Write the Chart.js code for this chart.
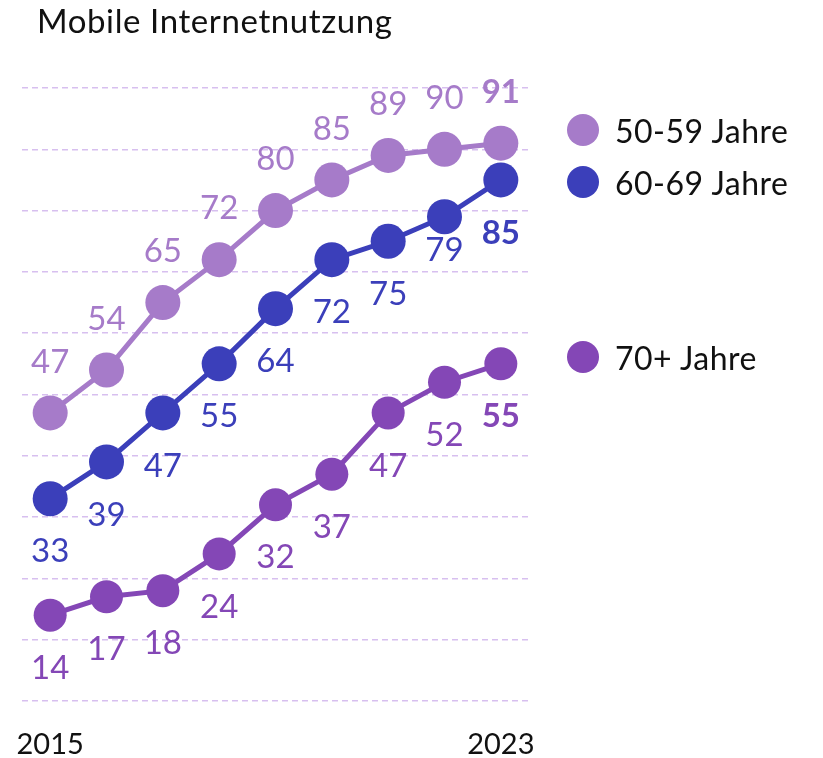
<!DOCTYPE html>
<html>
<head>
  <meta charset="UTF-8">
  <title>Mobile Internetnutzung</title>
  <script src="https://cdn.jsdelivr.net/npm/chart.js"></script>
  <style>
    html, body { margin: 0; padding: 0; background: #fff; }
    body { font-family: Lato, sans-serif; }
    .wrap { position: relative; width: 823px; height: 758px; }
    #chart { position: absolute; left: 0; top: 0; }
    .title { position: absolute; left: 37px; top: 0px; font-size: 33px; color: #111; letter-spacing: 0.6px; }
    .legend-item { position: absolute; left: 567px; height: 34px; display: flex; align-items: center; font-size: 32px; color: #111; letter-spacing: 0.5px; }
    .legend-item .dot { width: 32px; height: 32px; border-radius: 50%; margin-right: 16px; }
  </style>
</head>
<body>
  <div class="wrap">
    <canvas id="chart" width="823" height="758"></canvas>
    <div class="title">Mobile Internetnutzung</div>
    <div id="legend"></div>
  </div>

  <script>
    // data
    const years = ['2015', '2016', '2017', '2018', '2019', '2020', '2021', '2022', '2023'];
    const seriesNames = ['50-59 Jahre', '60-69 Jahre', '70+ Jahre'];
    const age50 = [47, 54, 65, 72, 80, 85, 89, 90, 91];
    const age60 = [33, 39, 47, 55, 64, 72, 75, 79, 85];
    const age70 = [14, 17, 18, 24, 32, 37, 47, 52, 55];

    const colors = ['#a67bc9', '#3b3fba', '#8447b6'];
    const gridColor = '#d7bfef';

    // legend (70+ sits lower, next to its line end)
    const legendTops = [113, 165, 340];
    const legend = document.getElementById('legend');
    seriesNames.forEach((name, i) => {
      const item = document.createElement('div');
      item.className = 'legend-item';
      item.style.top = legendTops[i] + 'px';
      item.innerHTML = '<span class="dot" style="background:' + colors[i] + '"></span>' + name;
      legend.appendChild(item);
    });

    // value labels: above for 50-59, below for the others, last one bold
    const valueLabels = {
      id: 'valueLabels',
      afterDatasetsDraw(chart) {
        const ctx = chart.ctx;
        ctx.save();
        ctx.textAlign = 'center';
        ctx.textBaseline = 'middle';
        chart.data.datasets.forEach((ds, di) => {
          const meta = chart.getDatasetMeta(di);
          meta.data.forEach((pt, i) => {
            const last = i === ds.data.length - 1;
            let dy = di === 0 ? -51 : 53;
            if (di === 1 && i === 7) dy = 34;
            ctx.font = (last ? 'bold ' : '') + '33px Lato';
            ctx.fillStyle = ds.borderColor;
            ctx.fillText(ds.data[i], pt.x, pt.y + dy);
          });
        });
        ctx.restore();
      }
    };

    new Chart(document.getElementById('chart').getContext('2d'), {
      type: 'line',
      data: {
        labels: years,
        datasets: [
          { label: seriesNames[0], data: age50, borderColor: colors[0], backgroundColor: colors[0], pointRadius: 17.5 },
          { label: seriesNames[1], data: age60, borderColor: colors[1], backgroundColor: colors[1], pointRadius: 17.5 },
          { label: seriesNames[2], data: age70, borderColor: colors[2], backgroundColor: colors[2], pointRadius: 16.5 }
        ]
      },
      options: {
        responsive: false,
        animation: false,
        layout: { padding: { left: 22, right: 294, top: 88, bottom: 0 } },
        elements: {
          line: { borderWidth: 5, tension: 0 },
          point: { borderWidth: 0, hoverRadius: 17.5 }
        },
        plugins: {
          legend: { display: false },
          tooltip: { enabled: false }
        },
        scales: {
          x: {
            offset: true,
            grid: { display: false, drawTicks: false },
            border: { display: false },
            afterFit: (scale) => {
              scale.height = 57;
              scale.paddingLeft = 0;
              scale.paddingRight = 0;
            },
            ticks: {
              autoSkip: false,
              maxRotation: 0,
              padding: 26,
              color: '#111',
              font: { family: 'Lato', size: 29 },
              callback: function(value, index) {
                return (index === 0 || index === years.length - 1) ? years[index] : '';
              }
            }
          },
          y: {
            min: 0,
            max: 100,
            afterFit: (scale) => { scale.width = 0; },
            ticks: { display: false, stepSize: 10 },
            grid: { color: gridColor, lineWidth: 1.5, drawTicks: false },
            border: { display: false, dash: [6, 4] }
          }
        }
      },
      plugins: [valueLabels]
    });
  </script>
</body>
</html>
